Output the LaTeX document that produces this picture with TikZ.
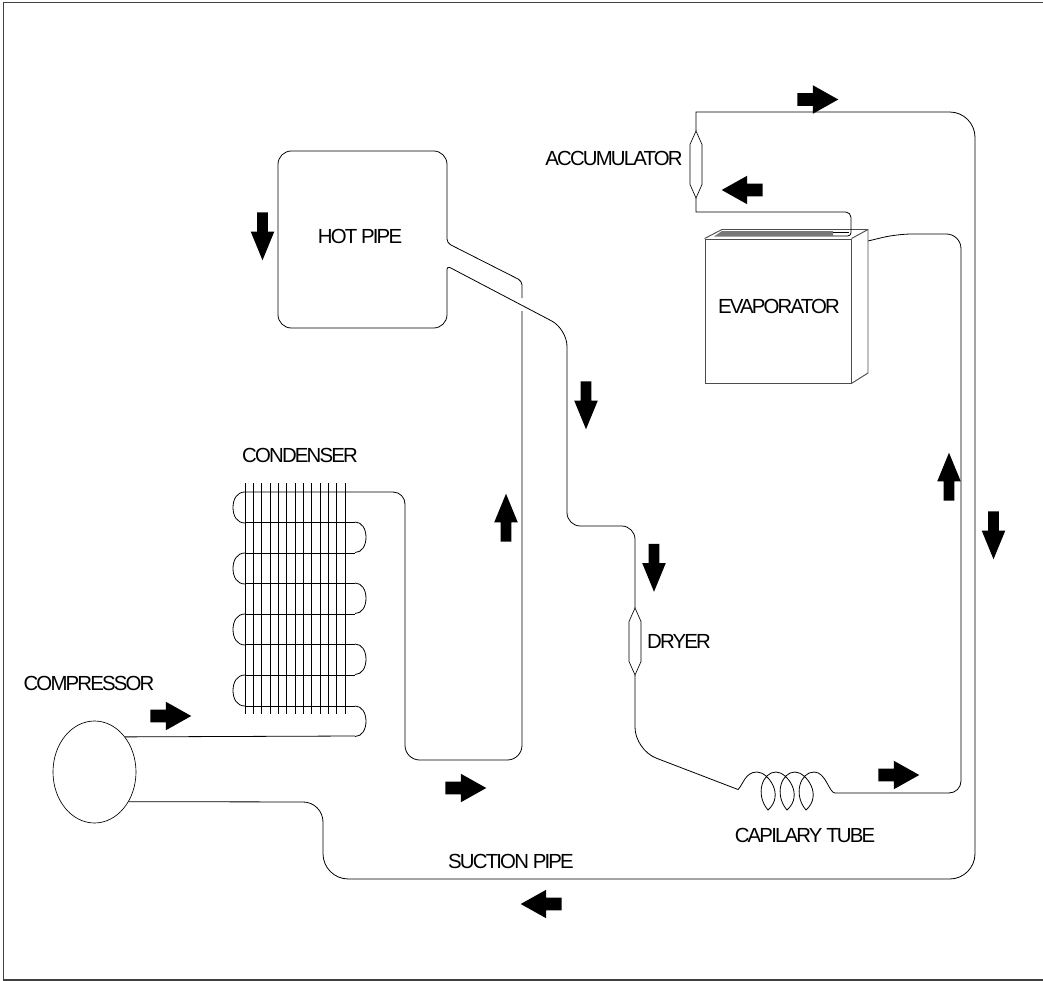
\documentclass[tikz,border=0pt]{standalone}
\usepackage{fontspec}
\setmainfont[LetterSpace=-9]{Liberation Sans}
\usetikzlibrary{shapes.arrows, shapes.geometric}
\definecolor{finegray}{RGB}{120, 120, 120}
\tikzset{
    pipe/.style={draw=black, line width=0.6pt},
    partlabel/.style={inner sep=0pt, font=\fontsize{15.3}{17}\selectfont},
    flowarrow/.style={single arrow, anchor=tail, fill=black, draw=none, inner sep=0pt, single arrow head indent=0pt},
    hflow/.style={flowarrow, text height=4.5pt, text depth=4.5pt, minimum height=30.75pt, minimum width=21pt, single arrow head extend=6pt, single arrow tip angle=58.5},
    vflow/.style={flowarrow, text height=3.75pt, text depth=3.75pt, minimum height=36pt, minimum width=17.25pt, single arrow head extend=4.9pt, single arrow tip angle=44.7},
    filterbody/.pic={
        \coordinate (-top) at (0,-33.5);
        \coordinate (-bot) at (0,33.5);
        \draw[draw=black, line width=0.5pt] (-top) -- (6,-20) -- (6,20) -- (-bot) -- (-6,20) -- (-6,-20) -- cycle;
    },
    evapbox/.style={rectangle, draw=black!70, line width=0.7pt, inner sep=0pt, minimum width=109.5pt, minimum height=108pt}
}
\begin{document}
\begin{tikzpicture}[x=0.75pt, y=-0.75pt]
    \useasboundingbox (0,0) rectangle (1043,981);
    \draw[draw=black!75, line width=0.8pt] (1043,2.5) -- (3.5,2.5) -- (3.5,980) -- (1043,980);

    \node[ellipse, draw=black, line width=0.5pt, inner sep=0pt, minimum width=62.25pt, minimum height=76.5pt] (comp) at (94.5,772) {};
    \pic (dryer) at (635,641.5) {filterbody};
    \pic (accum) at (696,164.5) {filterbody};
    \node[evapbox] (evap) at (778,311) {};
    \coordinate (evapout) at (868,241);
    \coordinate (coilin) at (738,789.5);
    \coordinate (coilout) at (835,793);

    % condenser
    \foreach \x in {0,...,12}
        \draw[pipe] (245+\x*8.33,483) -- (245+\x*8.33,714);
    \foreach \y in {522,553,583,614,644,675,706}
        \draw[pipe] (245,\y) -- (355,\y);
    \foreach \y in {492,553,614,675}
        \draw[pipe] (245,\y) .. controls (237,\y) and (233,\y+7) .. (233,\y+15.5)
            .. controls (233,\y+24) and (237,\y+31) .. (245,\y+31);
    \foreach \y in {522,583,644,706}
        \draw[pipe] (355,\y) .. controls (362,\y) and (366,\y+7) .. (366,\y+15.25)
            .. controls (366,\y+23.5) and (362,\y+30.5) .. (355,\y+30.5);
    \draw[pipe] (comp.49.3) -- (355,736);

    % hot pipe
    \draw[pipe] (245,492) [rounded corners=9pt] -- (405,492) [rounded corners=11pt] -- (405,760) -- (522,760) -- (522,311);
    \draw[pipe] (522,298) [rounded corners=3pt] -- (522,281) -- (447,243) [rounded corners=10pt] -- (447,151) -- (278,151) -- (278,328) -- (447,328)
        [rounded corners=2.5pt] -- (447,266) [rounded corners=13pt] -- (567,329) [rounded corners=10pt] -- (567,526) -- (635,526) -- (dryer-top);

    % dryer to evaporator
    \draw[pipe] (dryer-bot) [rounded corners=17pt] -- (635,750) [sharp corners] -- (coilin)
        .. controls (743,785) and (745,772) .. (757,772);
    \foreach \i in {0,1,2}
        \draw[pipe, xshift=\i*14.25pt] (757,772) .. controls (768,772) and (785,795) .. (768,810)
            .. controls (755,795) and (762,772) .. (776,772);
    \draw[pipe] (814,772) .. controls (826,772) and (829,793) .. (coilout);
    \draw[pipe] (coilout) [rounded corners=9pt] -- (961,793) [rounded corners=11pt] -- (961,234) -- (897,234) [sharp corners] -- (evapout);

    % evaporator
    \draw[draw=black!70, line width=0.7pt] (evap.north west) -- (722,229.5) -- (868,229.5) -- (868,373) -- (evap.south east);
    \draw[draw=black!70, line width=0.7pt] (evap.north east) -- (868,229.5);
    \fill[finegray] (714,236.5) -- (722,231) -- (833,231) -- (833,236.5) -- cycle;
    \draw[pipe] (833,232) -- (849,232);
    \draw[pipe] (accum-bot) -- (696,212) [rounded corners=4pt] -- (851,212) [rounded corners=2.5pt] -- (851,236) -- (833,236);

    % suction line
    \draw[pipe] (accum-top) -- (696,112) [rounded corners=19pt] -- (975,112) -- (975,879) -- (323,879) [rounded corners=15pt] -- (323,802) -- (comp.-41.4);

    \node[partlabel] (hotlbl) at (360,236) {HOT PIPE};
    \node[partlabel] (accumlbl) at (614,158) {ACCUMULATOR};
    \node[partlabel] (evaplbl) at (779,306) {EVAPORATOR};
    \node[partlabel] (condlbl) at (300,455) {CONDENSER};
    \node[partlabel] (drylbl) at (679,641) {DRYER};
    \node[partlabel] (complbl) at (89,683) {COMPRESSOR};
    \node[partlabel] (coillbl) at (805,835) {CAPILARY TUBE};
    \node[partlabel] (suctlbl) at (511,861) {SUCTION PIPE};

    \node[hflow] (flowa) at (797,99.5) {};
    \node[hflow, rotate=180] (flowb) at (763,190) {};
    \node[hflow] (flowc) at (150,716) {};
    \node[hflow] (flowd) at (445,788) {};
    \node[hflow] (flowe) at (878,775) {};
    \node[hflow, rotate=180] (flowf) at (562,904) {};
    \node[vflow, rotate=-90] (flowg) at (262.5,212) {};
    \node[vflow, rotate=-90] (flowh) at (586,381) {};
    \node[vflow, rotate=-90] (flowi) at (654,543.5) {};
    \node[vflow, rotate=-90] (flowj) at (993.5,511) {};
    \node[vflow, rotate=90] (flowk) at (949,501) {};
    \node[vflow, rotate=90] (flowl) at (506,542) {};
\end{tikzpicture}
\end{document}
